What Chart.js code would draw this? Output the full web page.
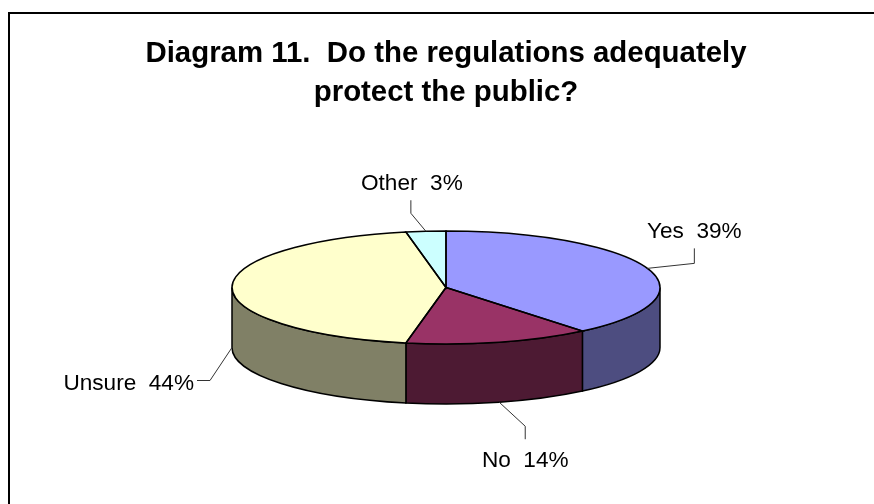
<!DOCTYPE html>
<html>
<head>
<meta charset="utf-8">
<title>Diagram 11</title>
<script src="https://cdn.jsdelivr.net/npm/chart.js@4"></script>
<style>
  html, body { margin: 0; padding: 0; background: #fff; overflow: hidden; }
  #frame { position: absolute; left: 8px; top: 12px; right: 0; bottom: 0; border-left: 2px solid #000; border-top: 2px solid #000; }
  #chart { position: absolute; left: 0; top: 0; }
</style>
</head>
<body>
<div id="frame"></div>
<canvas id="chart" width="874" height="504"></canvas>
<script>
const categories = ['Yes', 'No', 'Unsure', 'Other'];
const percents = [39, 14, 44, 3];
const titleLines = ['Diagram 11.  Do the regulations adequately', 'protect the public?'];

// top face and side wall colours
const topColors = ['#9999FF', '#993366', '#FFFFCC', '#CCFFFF'];
const sideColors = ['#4D4D80', '#4D1A33', '#808066', '#668080'];

// tilted pie look
const radius = 214;
const centerY = 287.5;
const tilt = 56.5 / 214;
const depth = 60;

// leader line bends, relative to where the line leaves the pie
const leaders = [
  { elbow: [47, -5], end: [47, -20], align: 'center', text: [0, -10] },
  { elbow: [26, 24], end: [26, 37], align: 'center', text: [0, 28] },
  { elbow: [-22, 33], end: [-35, 33], align: 'right', text: [-3, 9] },
  { elbow: [-15, -18], end: [-15, -31], align: 'center', text: [1, -10] }
];

function frontPart(arc) {
  // arcs run from -PI/2 to 3PI/2, the front half of the pie is 0..PI
  return { from: Math.max(arc.startAngle, 0), to: Math.min(arc.endAngle, Math.PI) };
}

const tiltedPie = {
  id: 'tiltedPie',
  beforeDatasetsDraw(chart) {
    const ctx = chart.ctx;
    const arcs = chart.getDatasetMeta(0).data;
    const cx = arcs[0].x;
    ctx.save();
    ctx.lineWidth = 1.5;
    ctx.strokeStyle = '#000';
    arcs.forEach((arc, i) => {
      const { from, to } = frontPart(arc);
      if (to <= from) return;
      ctx.beginPath();
      ctx.ellipse(cx, centerY, radius, radius * tilt, 0, from, to);
      ctx.ellipse(cx, centerY + depth, radius, radius * tilt, 0, to, from, true);
      ctx.closePath();
      ctx.fillStyle = sideColors[i];
      ctx.fill();
      ctx.stroke();
    });
    ctx.restore();

    // squash the pie the library draws
    ctx.save();
    ctx.translate(cx, centerY);
    ctx.scale(1, tilt);
    ctx.translate(-cx, -arcs[0].y);
  },
  afterDatasetsDraw(chart) {
    const ctx = chart.ctx;
    ctx.restore();
    const arcs = chart.getDatasetMeta(0).data;
    const cx = arcs[0].x;

    ctx.save();
    ctx.lineWidth = 1.5;
    ctx.strokeStyle = '#000';
    arcs.forEach(arc => {
      ctx.beginPath();
      ctx.moveTo(cx, centerY);
      ctx.ellipse(cx, centerY, radius, radius * tilt, 0, arc.startAngle, arc.endAngle);
      ctx.closePath();
      ctx.stroke();
    });
    ctx.restore();

    ctx.save();
    ctx.font = '22.6px "Liberation Sans", Arial, sans-serif';
    ctx.fillStyle = '#000';
    ctx.strokeStyle = '#333';
    ctx.lineWidth = 1;
    ctx.textBaseline = 'alphabetic';
    arcs.forEach((arc, i) => {
      const mid = (arc.startAngle + arc.endAngle) / 2;
      const sx = cx + radius * Math.cos(mid);
      let sy = centerY + radius * tilt * Math.sin(mid);
      // front slices: the line leaves from the bottom rim
      if (Math.sin(mid) > -0.01) sy += depth;
      const l = leaders[i];
      ctx.beginPath();
      ctx.moveTo(sx, sy);
      ctx.lineTo(sx + l.elbow[0], sy + l.elbow[1]);
      ctx.lineTo(sx + l.end[0], sy + l.end[1]);
      ctx.stroke();
      ctx.textAlign = l.align;
      ctx.fillText(categories[i] + '  ' + percents[i] + '%', sx + l.end[0] + l.text[0], sy + l.end[1] + l.text[1]);
    });
    ctx.restore();
  }
};

new Chart(document.getElementById('chart'), {
  type: 'pie',
  data: {
    labels: categories,
    datasets: [{
      data: percents,
      backgroundColor: topColors,
      borderWidth: 0,
      clip: false
    }]
  },
  options: {
    responsive: false,
    animation: false,
    events: [],
    radius: radius,
    layout: { padding: { left: 18 } },
    plugins: {
      legend: { display: false },
      tooltip: { enabled: false },
      title: {
        display: true,
        text: titleLines,
        color: '#000',
        fullSize: false,
        padding: { top: 34, bottom: 10 },
        font: { family: '"Liberation Sans", Arial, sans-serif', size: 29.4, weight: 'bold', lineHeight: 1.327 }
      }
    }
  },
  plugins: [tiltedPie]
});
</script>
</body>
</html>
